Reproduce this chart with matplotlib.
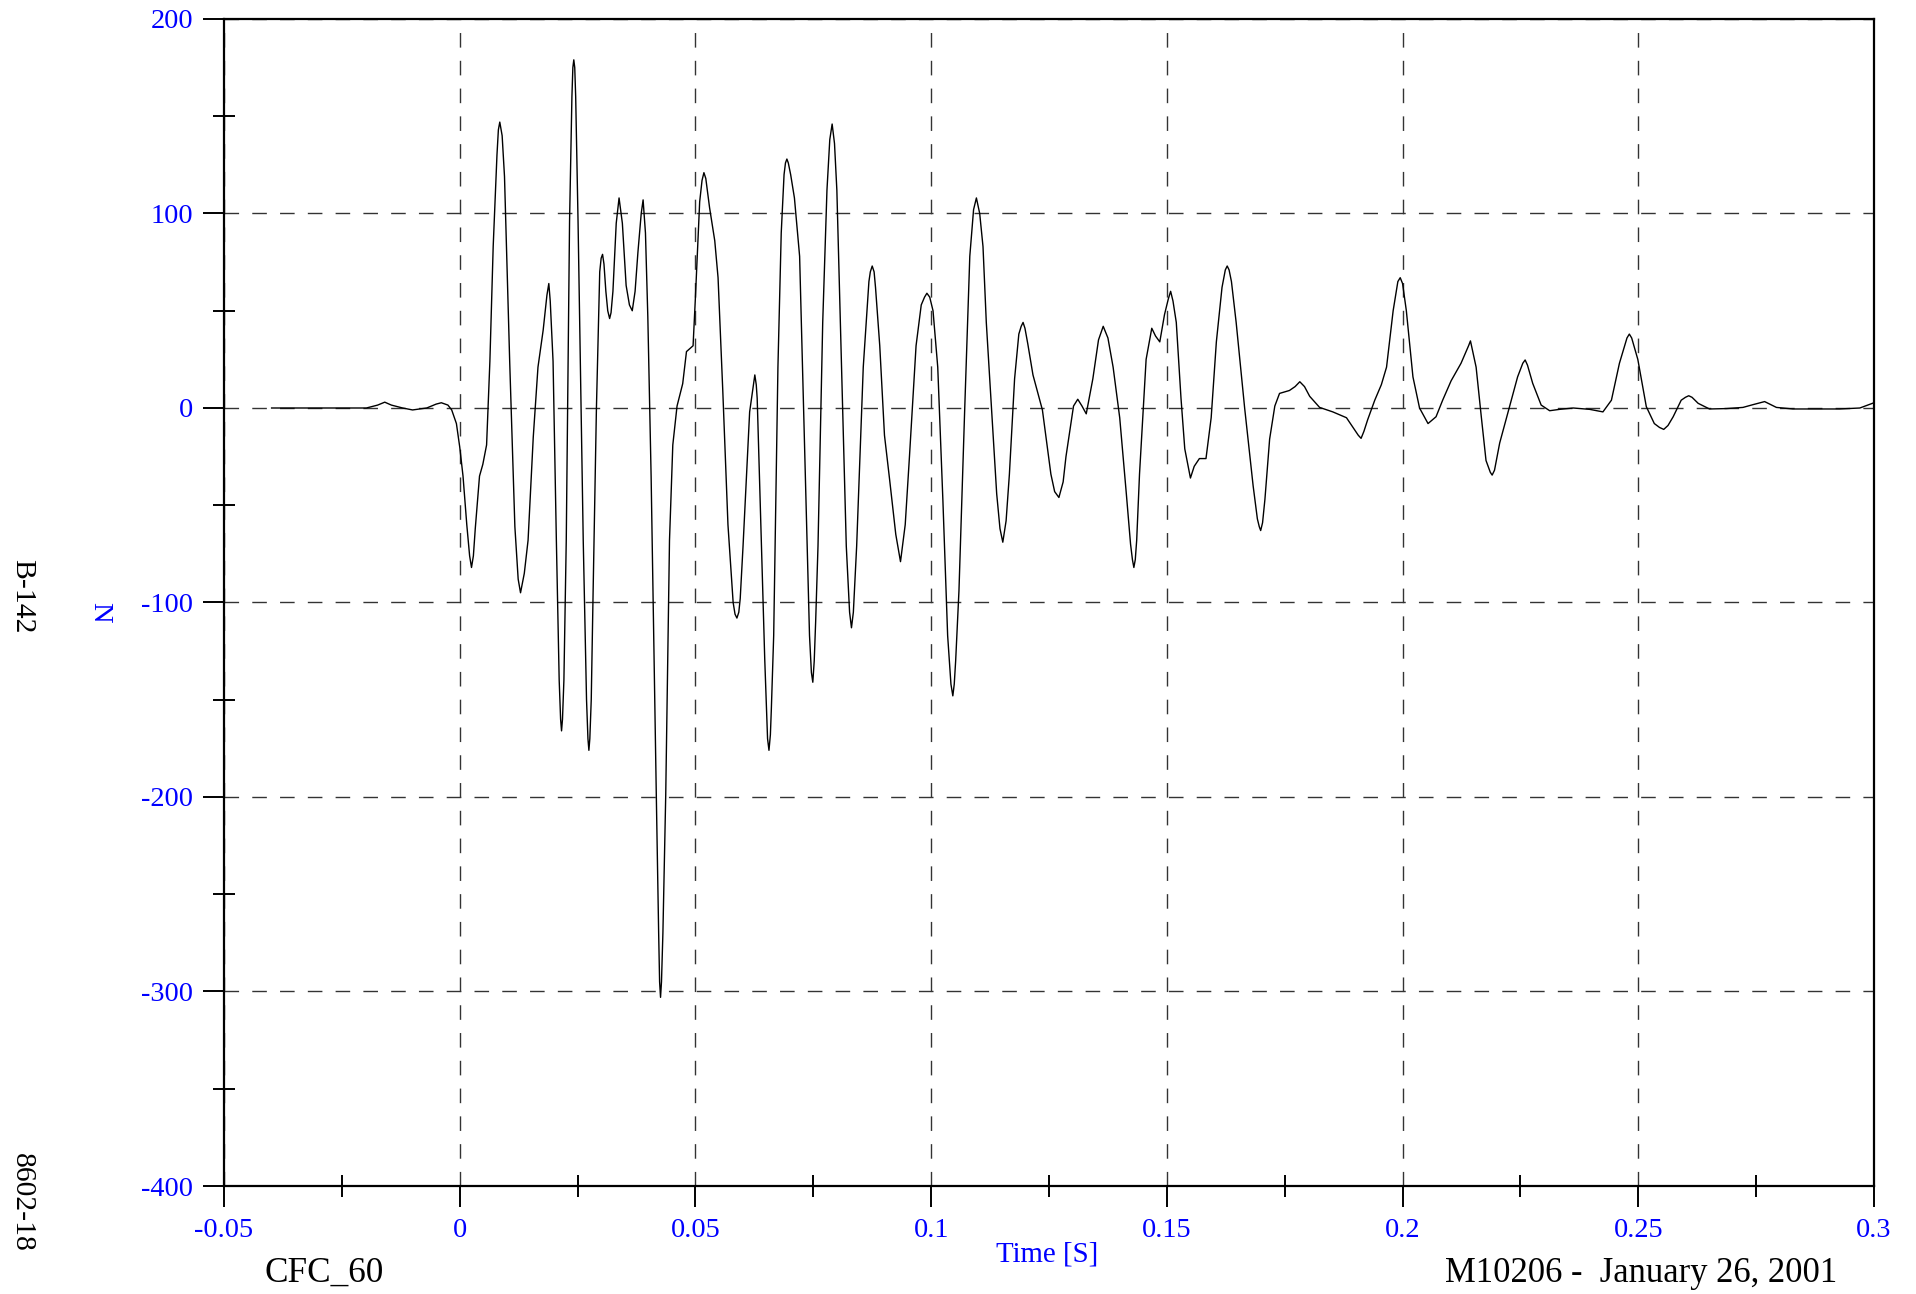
import matplotlib
matplotlib.use("Agg")
import matplotlib.pyplot as plt
from matplotlib.ticker import MultipleLocator, FixedLocator

# ---- data ----
time_s = [
    -0.0399, -0.0300, -0.0198, -0.0174, -0.0159, -0.0145, -0.0121, -0.0100, -0.0070, -0.0050,
    -0.0039, -0.0025, -0.0017, -0.0007, 0.0000, 0.0007, 0.0015, 0.0025, 0.0033, 0.0042,
    0.0049, 0.0057, 0.0064, 0.0071, 0.0079, 0.0085, 0.0090, 0.0095, 0.0106, 0.0117,
    0.0124, 0.0129, 0.0137, 0.0145, 0.0156, 0.0166, 0.0177, 0.0189, 0.0192, 0.0198,
    0.0205, 0.0211, 0.0216, 0.0221, 0.0226, 0.0233, 0.0238, 0.0242, 0.0246, 0.0251,
    0.0262, 0.0269, 0.0274, 0.0279, 0.0283, 0.0290, 0.0297, 0.0303, 0.0310, 0.0318,
    0.0325, 0.0332, 0.0338, 0.0345, 0.0353, 0.0366, 0.0378, 0.0389, 0.0394, 0.0399,
    0.0406, 0.0417, 0.0422, 0.0426, 0.0431, 0.0437, 0.0445, 0.0452, 0.0461, 0.0473,
    0.0481, 0.0495, 0.0500, 0.0509, 0.0518, 0.0530, 0.0541, 0.0548, 0.0558, 0.0569,
    0.0580, 0.0588, 0.0595, 0.0601, 0.0615, 0.0626, 0.0631, 0.0636, 0.0647, 0.0656,
    0.0661, 0.0666, 0.0675, 0.0682, 0.0688, 0.0694, 0.0702, 0.0710, 0.0721, 0.0732,
    0.0742, 0.0749, 0.0755, 0.0760, 0.0770, 0.0779, 0.0790, 0.0800, 0.0810, 0.0820,
    0.0831, 0.0842, 0.0856, 0.0868, 0.0875, 0.0882, 0.0891, 0.0901, 0.0912, 0.0925,
    0.0935, 0.0945, 0.0954, 0.0968, 0.0979, 0.0991, 0.1004, 0.1014, 0.1025, 0.1035,
    0.1046, 0.1052, 0.1059, 0.1071, 0.1082, 0.1090, 0.1096, 0.1103, 0.1110, 0.1117,
    0.1128, 0.1139, 0.1146, 0.1152, 0.1159, 0.1166, 0.1177, 0.1186, 0.1195, 0.1205,
    0.1216, 0.1236, 0.1254, 0.1262, 0.1271, 0.1280, 0.1286, 0.1302, 0.1311, 0.1320,
    0.1329, 0.1343, 0.1355, 0.1365, 0.1375, 0.1386, 0.1400, 0.1414, 0.1423, 0.1430,
    0.1436, 0.1442, 0.1456, 0.1468, 0.1476, 0.1485, 0.1495, 0.1508, 0.1520, 0.1530,
    0.1538, 0.1550, 0.1558, 0.1569, 0.1583, 0.1594, 0.1605, 0.1617, 0.1628, 0.1637,
    0.1647, 0.1665, 0.1683, 0.1692, 0.1699, 0.1708, 0.1718, 0.1729, 0.1739, 0.1760,
    0.1782, 0.1803, 0.1824, 0.1852, 0.1881, 0.1895, 0.1912, 0.1926, 0.1941, 0.1955,
    0.1966, 0.1980, 0.1995, 0.2008, 0.2022, 0.2036, 0.2054, 0.2071, 0.2085, 0.2103,
    0.2124, 0.2144, 0.2156, 0.2167, 0.2177, 0.2190, 0.2206, 0.2227, 0.2244, 0.2260,
    0.2276, 0.2294, 0.2312, 0.2333, 0.2362, 0.2397, 0.2425, 0.2443, 0.2460, 0.2481,
    0.2499, 0.2517, 0.2534, 0.2554, 0.2574, 0.2591, 0.2607, 0.2627, 0.2651, 0.2687,
    0.2722, 0.2743, 0.2768, 0.2793, 0.2828, 0.2927, 0.2970, 0.3000,
]
force_n = [
    0, 0, 0, 1.5, 3, 1.5, 0, -1, 0, 2,
    2.7, 1.5, -1, -8, -20, -35, -60, -82, -62, -35,
    -29, -19, 24, 83, 130, 147, 140, 119, 24, -61,
    -88, -95, -85, -68, -15, 21, 40, 64, 55, 24,
    -68, -140, -166, -140, -68, 96, 160, 179, 160, 96,
    -68, -150, -176, -150, -94, 0, 70, 79, 60, 46,
    60, 95, 108, 95, 63, 50, 80, 107, 90, 47,
    -35, -199, -270, -303, -270, -199, -68, -19, 1, 12.5,
    29, 32, 57, 106, 121, 103, 86, 67, 9, -60,
    -100, -108, -98, -71, -2, 17, 5, -37, -129, -176,
    -155, -117, 21, 90, 120, 128, 120, 108, 78, -25,
    -117, -141, -110, -71, 44, 112, 146, 112, 21, -71,
    -113, -71, 21, 65, 73, 62, 32, -14, -37, -65,
    -79, -60, -25, 32, 53, 59, 50, 21, -48, -117,
    -148, -130, -94, -2, 78, 102, 108, 100, 83, 44,
    0, -44, -62, -69, -58, -34, 15, 38, 44, 33,
    17, -1, -34, -43, -46, -38, -25, 1, 4.5, 1,
    -3, 15, 35, 42, 36, 21, -5, -44, -70, -82,
    -68, -34, 25, 41, 37, 34, 48, 60, 44, 5,
    -21, -36, -30, -26, -26, -5, 34, 62, 73, 65,
    44, 0, -40, -57, -63, -47, -16, 1, 7.5, 9,
    13.5, 6, 0.3, -2, -5, -10, -15.6, -6, 4, 12,
    21, 50, 67, 50, 16, 0, -8, -4.5, 4, 14,
    23, 34.5, 21, -4.5, -27, -34.5, -18, 0.7, 16, 24.7,
    12.7, 1.5, -1.4, -0.7, 0, -0.7, -2, 4, 23, 38,
    25, 0.7, -8, -11, -4.5, 4, 6.3, 2.4, -0.5, -0.3,
    0.3, 1.7, 3.3, 0.3, -0.5, -0.5, 0, 2.7,
]
# additional points read near the rounded peaks and troughs
peak_t = [
    0.0021, 0.0029, 0.0082, 0.0185, 0.0214, 0.0218, 0.0240, 0.0244, 0.0272, 0.0276,
    0.0300, 0.0306, 0.0314, 0.0321, 0.0360, 0.0372, 0.0385, 0.0424, 0.0428, 0.0514,
    0.0522, 0.0584, 0.0592, 0.0623, 0.0629, 0.0653, 0.0659, 0.0691, 0.0697, 0.0746,
    0.0752, 0.0785, 0.0795, 0.0827, 0.0835, 0.0871, 0.0879, 0.0986, 0.0997, 0.1042,
    0.1049, 0.1191, 0.1199, 0.1427, 0.1433, 0.1503, 0.1513, 0.1624, 0.1632, 0.1696,
    0.1703, 0.1772, 0.1792, 0.1906, 0.1918, 0.1990, 0.2000, 0.2140, 0.2148, 0.2186,
    0.2195, 0.2255, 0.2265, 0.2476, 0.2486, 0.2545, 0.2563, 0.2600, 0.2614,
]
peak_v = [
    -76, -76, 143, 58, -160, -160, 175, 175, -170, -170,
    77, 74, 50, 49, 53, 60, 100, -295, -295, 117,
    118, -106, -105, 12, 12, -170, -168, 126, 126, -136,
    -130, 138, 136, -105, -105, 70, 70, 57, 57, -142,
    -142, 42, 41, -78, -78, 56, 55, 71, 71, -61,
    -59, 11, 11, -14, -12, 65, 64, 32, 30, -33,
    -32, 23, 22, 36, 36, -10, -9, 5.5, 5.5,
]
x_major = [-0.05, 0, 0.05, 0.1, 0.15, 0.2, 0.25, 0.3]
x_labels = ["-0.05", "0", "0.05", "0.1", "0.15", "0.2", "0.25", "0.3"]
y_major = [-400, -300, -200, -100, 0, 100, 200]
y_labels = ["-400", "-300", "-200", "-100", "0", "100", "200"]

pts = sorted(zip(time_s + peak_t, force_n + peak_v))
t_all = [p[0] for p in pts]
v_all = [p[1] for p in pts]

plt.rcParams["font.family"] = ["Liberation Serif", "DejaVu Serif"]

W, H = 1916, 1294
fig = plt.figure(figsize=(W / 100, H / 100), dpi=100)
ax = fig.add_axes([224 / W, 1 - 1186 / H, (1874 - 224) / W, (1186 - 19) / H])

ax.plot(t_all, v_all, color="black", lw=1.0, zorder=3, solid_joinstyle="round")

ax.set_xlim(-0.05, 0.3)
ax.set_ylim(-400, 200)

ax.xaxis.set_major_locator(FixedLocator(x_major))
ax.yaxis.set_major_locator(FixedLocator(y_major))
ax.set_xticklabels(x_labels)
ax.set_yticklabels(y_labels)
ax.xaxis.set_minor_locator(MultipleLocator(0.025))
ax.yaxis.set_minor_locator(MultipleLocator(50))

ax.tick_params(which="major", direction="out", length=15, width=1.4,
               labelsize=20.3, labelcolor="#0000FF", pad=7)
ax.tick_params(which="minor", direction="inout", length=16, width=1.4)
ax.tick_params(axis="x", which="major", pad=8)

for s in ax.spines.values():
    s.set_linewidth(1.6)
    s.set_color("black")

ax.grid(True, which="major", color="#333333", lw=1.0, linestyle=(0, (10.5, 9.5)), zorder=1)

# labels / annotations
fig.text(1047 / W, 1 - 1255 / H, "Time [S]", color="#0000FF", fontsize=20.8,
         ha="center", va="center")
fig.text(100 / W, 1 - 612 / H, "N", color="#0000FF", fontsize=20.5,
         rotation=-90, ha="center", va="center")
fig.text(22 / W, 1 - 596 / H, "B-142", color="black", fontsize=21.3,
         rotation=-90, ha="center", va="center")
fig.text(22 / W, 1 - 1202 / H, "8602-18", color="black", fontsize=21.3,
         rotation=-90, ha="center", va="center")
fig.text(324 / W, 1 - 1273 / H, "CFC_60", color="black", fontsize=25.3,
         ha="center", va="center")
fig.text(1641 / W, 1 - 1273 / H, "M10206 -  January 26, 2001", color="black",
         fontsize=24.9, ha="center", va="center")

fig.savefig("out.png", dpi=100)
